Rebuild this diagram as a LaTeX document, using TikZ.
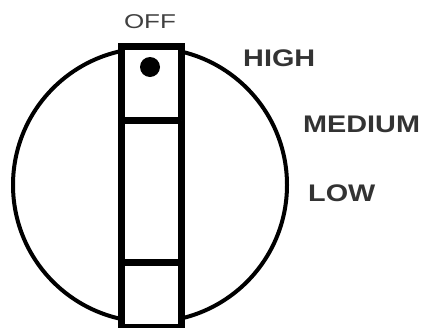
\documentclass[tikz,border=0pt]{standalone}
\usepackage{fontspec}
\setmainfont{Liberation Sans}
\usetikzlibrary{positioning}

\begin{document}
\begin{tikzpicture}[
        x=1pt, y=-1pt,
        dial/.style={draw=black, line width=4pt},
        slot/.style={draw=black, line width=7pt, fill=white},
        setting/.style={font=\fontsize{24}{24}\selectfont\bfseries, text=black!80, inner sep=0pt, anchor=base west, xscale=1.2},
        offlabel/.style={font=\fontsize{20}{20}\selectfont, text=black!75, inner sep=0pt, anchor=base, xscale=1.3}
    ]
        \useasboundingbox (0,0) rectangle (428,327);

        % Dial
        \draw [dial] (150,185) circle (137);
        \draw [slot] (121,46) rectangle (181,327);
        \draw [slot] (121,120) -- (181,120);
        \draw [slot] (121,262) -- (181,262);
        \fill [black] (150,67) circle (10);

        % Labels
        \node (off) [offlabel] at (150,28) {OFF};
        \node (high) [setting] at (243,66) {HIGH};
        \node (medium) [setting] at (303,132) {MEDIUM};
        \node (low) [setting] at (308,201) {LOW};
    \end{tikzpicture}
\end{document}
